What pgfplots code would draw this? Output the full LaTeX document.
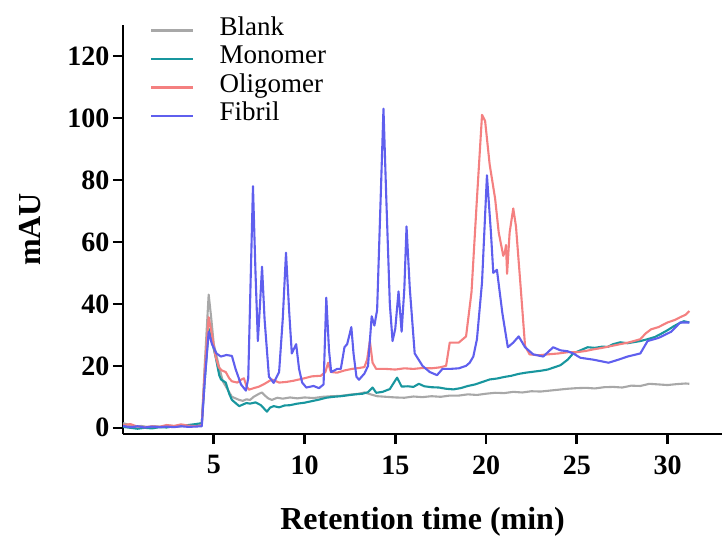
\documentclass[border=0pt]{standalone}
\usepackage{pgfplots}
\pgfplotsset{compat=1.18}
\usepackage{fontspec}
\setmainfont{Liberation Serif}
\definecolor{cBlank}{RGB}{168,168,168}
\definecolor{cMono}{RGB}{24,150,158}
\definecolor{cOligo}{RGB}{244,128,128}
\definecolor{cFib}{RGB}{95,95,238}
\begin{document}
\begin{tikzpicture}
\path[use as bounding box] (-123bp,-105bp) rectangle (604bp,434bp);
\begin{axis}[
 at={(0,0)}, anchor=south west,
 scale only axis, width=599bp, height=409bp,
 xmin=0, xmax=33, ymin=-2, ymax=130,
 axis lines=left, axis line style={line width=2.6bp, -, black},
 xtick={5,10,...,30}, ytick={0,20,...,120},
 tick style={line width=2.6bp, black}, tick align=outside, major tick length=10bp,
 ticklabel style={font=\fontsize{28bp}{30bp}\selectfont\bfseries},
 xticklabel style={yshift=-8bp},
 /pgf/number format/assume math mode=true,
 xlabel={Retention time (min)}, ylabel={mAU},
 label style={font=\fontsize{32bp}{36bp}\selectfont\bfseries},
 xlabel style={at={(axis description cs:0.5,-0.215)}, anchor=center},
 ylabel style={at={(axis description cs:-0.155,0.5)}, anchor=center},
 legend style={at={(rel axis cs:0,1)}, anchor=north west, xshift=27bp, yshift=9bp,
   draw=none, fill=none, inner sep=0pt, column sep=25bp,
   font=\fontsize{27bp}{29bp}\selectfont,
   nodes={inner sep=0pt, text height=19bp, text depth=9.5bp}},
 legend cell align=left,
 legend image code/.code={\draw[#1, line width=2.4bp] (0bp,0bp) -- (42bp,0bp);},
 every axis plot/.append style={line width=2.1bp, line join=round},
]
\addplot[cBlank] table {
0.0 1.5
0.3 1.0
0.6 0.3
1.0 0.6
1.4 0.2
1.8 0.5
2.2 0.3
2.6 0.7
3.0 0.4
3.4 0.6
3.8 0.5
4.2 0.8
4.34 1.0
4.5 20
4.72 43
4.85 36
5.0 27
5.28 20
5.5 15
5.7 13
6.0 10
6.2 9.5
6.4 9
6.6 8.7
6.8 9.2
7.0 9
7.2 10
7.5 11
7.66 11.4
7.8 10.5
8.0 9.5
8.2 9
8.5 9.7
8.8 9.4
9.2 9.8
9.6 9.5
10.0 9.8
10.5 9.6
11.0 10
11.5 10.2
12.0 10.3
12.5 10.7
13.0 11.0
13.3 11.4
13.7 10.7
14.0 10.2
14.5 10.0
15.0 9.8
15.5 9.7
16.0 10.1
16.5 9.9
17.0 10.2
17.5 10.0
18.0 10.4
18.5 10.4
19.0 10.8
19.5 10.6
20.0 11.0
20.5 11.3
21.0 11.2
21.5 11.6
22.0 11.4
22.5 11.8
23.0 11.7
23.5 12.0
24.0 12.3
24.5 12.6
25.0 12.8
25.5 12.9
26.0 12.7
26.5 13.1
27.0 13.2
27.5 13.0
28.0 13.6
28.5 13.5
29.0 14.2
29.5 14.0
30.0 13.8
30.5 14.1
31.0 14.3
31.2 14.2
};
\addlegendentry{Blank}
\addplot[cMono] table {
0.0 0.3
0.4 0.0
0.8 -0.3
1.2 0.0
1.6 -0.2
2.0 0.2
2.4 0.1
2.8 0.5
3.2 0.6
3.6 0.9
4.0 1.2
4.34 1.5
4.5 15
4.72 32
4.9 28
5.1 23
5.3 17
5.4 15.6
5.66 14.6
5.85 11
6.0 9
6.2 8
6.4 7
6.6 7.5
6.8 8
7.0 7.8
7.3 8.2
7.6 7.3
7.93 5.2
8.1 6.5
8.3 7
8.6 6.6
8.9 7.2
9.2 7.3
9.6 7.8
10.0 8.1
10.4 8.6
10.8 9.1
11.2 9.7
11.6 10.0
12.0 10.2
12.4 10.5
12.8 10.8
13.2 11.0
13.5 11.5
13.75 13.0
13.95 11.3
14.3 11.6
14.7 12.5
15.1 16.2
15.35 13.3
15.7 13.4
16.0 13.2
16.3 14.2
16.6 13.4
17.0 13.1
17.4 13.0
17.8 12.6
18.2 12.4
18.6 12.8
19.0 13.5
19.4 14.0
19.8 14.8
20.2 15.6
20.6 15.9
21.0 16.4
21.4 16.8
21.8 17.4
22.2 17.8
22.6 18.1
23.0 18.4
23.4 18.8
23.8 19.6
24.1 20.2
24.5 22
24.8 24
25.2 25
25.6 26
26.0 25.8
26.4 26.2
26.7 26.1
27.0 27.0
27.4 27.6
27.8 27.3
28.1 27.6
28.5 28.0
28.9 28.6
29.3 29.3
29.6 30.2
30.0 31.5
30.35 32.8
30.6 33.6
30.9 34.4
31.2 34.0
};
\addlegendentry{Monomer}
\addplot[cOligo] table {
0.0 0.8
0.4 1.2
0.8 0.4
1.2 0.2
1.6 0.5
2.0 0.3
2.4 0.9
2.8 0.6
3.2 1.1
3.6 0.7
4.0 0.5
4.34 0.8
4.5 18
4.72 35.7
4.9 30
5.1 23
5.28 19.5
5.45 18.5
5.66 18
5.85 16
6.0 15
6.3 14.6
6.5 15.5
6.66 16
6.8 13.5
6.94 12.3
7.2 12.8
7.5 13.3
7.8 14.2
8.2 15.6
8.6 14.6
9.0 14.8
9.4 15.2
9.7 15.6
10.0 16
10.4 16.6
10.9 16.8
11.15 18
11.3 21
11.45 18
11.8 17.8
12.2 18.5
12.6 19
13.0 19.3
13.3 19.6
13.45 22
13.6 28
13.75 21
13.95 19
14.5 19
15.0 18.8
15.5 19.2
16.0 19.0
16.5 19.3
17.0 19.2
17.45 19.5
17.8 20
18.0 27.5
18.5 27.5
18.9 29.5
19.2 43.8
19.5 74
19.78 101
19.95 99
20.2 85
20.5 74
20.7 63
20.95 55.5
21.05 57
21.1 59
21.16 49.7
21.3 63
21.5 70.8
21.65 65
21.9 46
22.15 26.4
22.4 23.7
22.9 23.4
23.4 23.7
24.0 24.0
24.5 24.4
25.0 24.4
25.5 24.8
25.9 25.3
26.4 25.8
26.9 26.4
27.4 27
27.9 27.6
28.5 28.6
28.8 30.5
29.1 31.8
29.5 32.5
30.0 34
30.4 34.8
30.7 35.7
31.0 36.5
31.2 37.7
};
\addlegendentry{Oligomer}
\addplot[cFib] table {
0.0 0.6
0.4 0.2
0.8 0.5
1.2 0.1
1.6 0.4
2.0 0.2
2.4 0.4
2.8 0.2
3.2 0.5
3.6 0.3
4.0 0.4
4.34 0.5
4.5 15
4.72 31
4.9 27
5.15 24
5.39 23
5.7 23.5
6.0 23.2
6.2 19
6.5 14
6.77 12
6.9 16
7.0 40
7.16 78
7.3 50
7.43 28
7.55 40
7.66 52
7.8 35
8.04 16.5
8.3 14.5
8.6 18
8.8 35
8.98 56.5
9.15 38
9.3 24
9.54 27
9.7 19
9.87 14.6
10.1 13
10.5 13.5
10.8 12.8
11.05 14
11.2 42
11.35 25
11.47 18
11.8 19
12.0 19
12.2 26
12.35 27
12.58 32.5
12.7 24
12.86 16.5
13.0 15.5
13.3 17.5
13.5 20
13.7 36
13.85 33
14.0 38
14.2 75
14.35 103
14.5 75
14.7 40
14.85 28
15.0 32
15.18 44
15.35 31
15.5 45
15.62 65
15.8 45
16.07 24
16.5 20
16.9 18
17.3 17
17.6 19
18.0 19
18.5 19.2
18.9 20
19.1 21
19.3 23
19.5 28.6
19.78 47
20.05 81.5
20.27 63
20.4 50
20.6 51
20.9 37
21.2 26
21.5 27.5
21.8 29.5
22.15 26
22.6 23.7
23.15 23
23.7 26
24.1 25
24.5 24.7
24.8 24
25.2 22.6
25.9 22
26.75 21
27.3 22
27.8 23
28.5 24
28.9 28
29.5 29
30.2 31
30.7 34
31.2 34
};
\addlegendentry{Fibril}
\end{axis}
\end{tikzpicture}
\end{document}
